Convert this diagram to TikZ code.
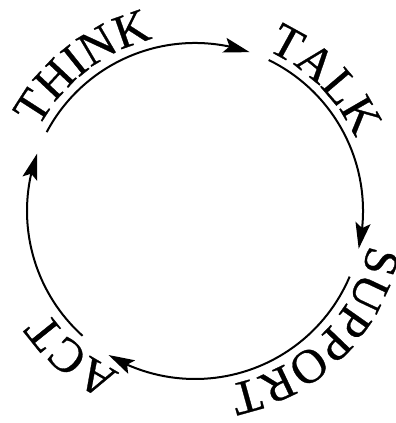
\documentclass[tikz,border=0pt]{standalone}
\usepackage{fontspec}
\usetikzlibrary{arrows.meta,bending,decorations.text}
\newfontfamily\cyclefamily[FakeBold=0.6]{Liberation Serif}
\newcommand\cyclefont{\cyclefamily\fontsize{48}{48}\selectfont}
\definecolor{CycleInk}{RGB}{0,0,0}

\tikzset{
  cycleline/.style={CycleInk,line width=2pt,-{Stealth[length=26pt,width=15pt,inset=5pt,flex]}},
  cyclelabel/.style={decorate,decoration={text along path,text align=left,text color=CycleInk,text={#1}}}
}

\begin{document}
\begin{tikzpicture}[x=1pt,y=1pt]
        \useasboundingbox (0,0) rectangle (396,423);
        \coordinate (hub) at (195,212);

        % arcs between the words, running clockwise
        \foreach \from/\to in {152/71,64/-13,-23/-121,-132/-200} {
          \draw[cycleline] ([shift={(\from:168)}]hub) arc (\from:\to:168);
        }

        % the words sit just outside the ring
        \path[cyclelabel={|\cyclefont|THINK}] ([shift={(152:177)}]hub) arc (152:60:177);
        \path[cyclelabel={|\cyclefont|TALK}] ([shift={(66:176)}]hub) arc (66:-30:176);
        \path[cyclelabel={|\cyclefont|SUPPORT}] ([shift={(-11:177)}]hub) arc (-11:-110:177);
        \path[cyclelabel={|\cyclefont|ACT}] ([shift={(-115:178)}]hub) arc (-115:-200:178);
      \end{tikzpicture}
\end{document}
